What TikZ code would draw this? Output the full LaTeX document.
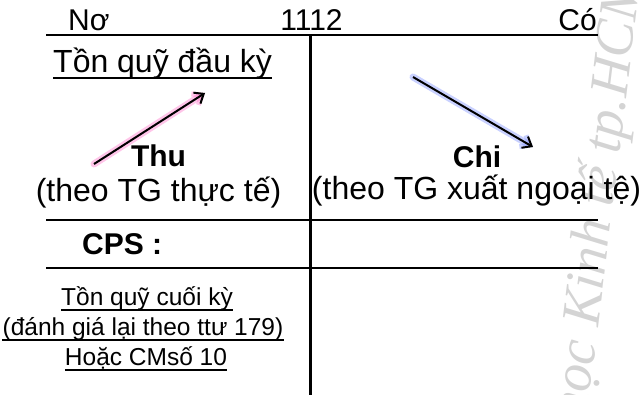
\documentclass[tikz,border=0pt]{standalone}
\usepackage{fontspec}
\setmainfont{Liberation Sans}
\newfontfamily\wmfont{Liberation Serif}
\usetikzlibrary{arrows.meta}
\definecolor{haloPink}{RGB}{255,110,200}
\definecolor{haloBlue}{RGB}{120,140,255}
\definecolor{wmGray}{RGB}{212,212,212}
\begin{document}
\begin{tikzpicture}[x=1pt,y=-1pt,
  lbl/.style={inner sep=0pt, anchor=base, font=\fontsize{32}{38}\selectfont},
  toplbl/.style={inner sep=0pt, anchor=base, font=\fontsize{30}{36}\selectfont},
  hd/.style={inner sep=0pt, anchor=base, font=\fontsize{30}{36}\selectfont\bfseries},
  sm/.style={inner sep=0pt, anchor=base, font=\fontsize{24.5}{30}\selectfont},
  wm/.style={inner sep=0pt, rotate=83, text=wmGray,
    font=\wmfont\itshape\fontsize{55}{60}\selectfont},
  thickrule/.style={line width=2.6pt},
  stem/.style={line width=3pt},
  thinrule/.style={line width=1.3pt},
  uline/.style={line width=2pt},
  suline/.style={line width=1.6pt},
  arr/.style={line width=2pt, -{Straight Barb[length=8pt,width=13pt,line width=2pt]}},
  glow/.style={line width=7pt, opacity=0.4, line cap=round,
    -{Straight Barb[length=8pt,width=13pt,line width=5pt]}},
  glowpink/.style={glow, draw=haloPink},
  glowblue/.style={glow, draw=haloBlue}]
\useasboundingbox (0,0) rectangle (643,395);
\clip (0,0) rectangle (643,395);

% watermark
\coordinate (wmpt) at (598,328);
\node[wm, anchor=base east] (wmA) at (wmpt) {Đại học\kern0.25em};
\node[wm, anchor=base west] (wmB) at (wmpt) {Kinh tế tp.HCM};

% account header
\node[toplbl, anchor=base west] (no) at (68,31) {Nơ};
\node[toplbl] (acc) at (311.5,31) {1112};
\node[toplbl, anchor=base east] (co) at (597,31) {Có};

% T-account frame
\coordinate (tl) at (46,35);
\coordinate (tr) at (598,35);
\coordinate (vt) at (310,35);
\coordinate (vb) at (310,395);
\coordinate (m1l) at (46,220);
\coordinate (m1r) at (598,220);
\coordinate (m2l) at (46,268);
\coordinate (m2r) at (598,268);
\draw[thickrule] (tl) -- (tr);
\draw[stem] (vt) -- (vb);
\draw[thinrule] (m1l) -- (m1r);
\draw[thinrule] (m2l) -- (m2r);

% debit side
\node[lbl, anchor=base west] (dk) at (53,73) {Tồn quỹ đầu kỳ};
\draw[uline] ([yshift=-5pt]dk.base west) -- ([yshift=-5pt]dk.base east);
\node[hd] (thu) at (158.5,167) {Thu};
\node[lbl] (thudesc) at (158.5,202) {(theo TG thực tế)};
\node[hd, anchor=base west] (cps) at (82,255) {CPS :};

% credit side
\node[hd] (chi) at (477,168) {Chi};
\node[lbl] (chidesc) at (476.5,200) {(theo TG xuất ngoại tệ)};

% closing balance
\node[sm] (ck1) at (147,306) {Tồn quỹ cuối kỳ};
\node[sm] (ck2) at (143,336) {(đánh giá lại theo ttư 179)};
\node[sm] (ck3) at (146,366) {Hoặc CMsố 10};
\foreach \n in {ck1,ck2,ck3}
  \draw[suline] ([yshift=-4pt]\n.base west) -- ([yshift=-4pt]\n.base east);

% flow arrows
\coordinate (pa) at (94,164);
\coordinate (pb) at (205,93);
\coordinate (ba) at (413,77);
\coordinate (bb) at (533,147);
\draw[glowpink] (pa) -- (pb);
\draw[arr] (pa) -- (pb);
\draw[glowblue] (ba) -- (bb);
\draw[arr] (ba) -- (bb);
\end{tikzpicture}
\end{document}
